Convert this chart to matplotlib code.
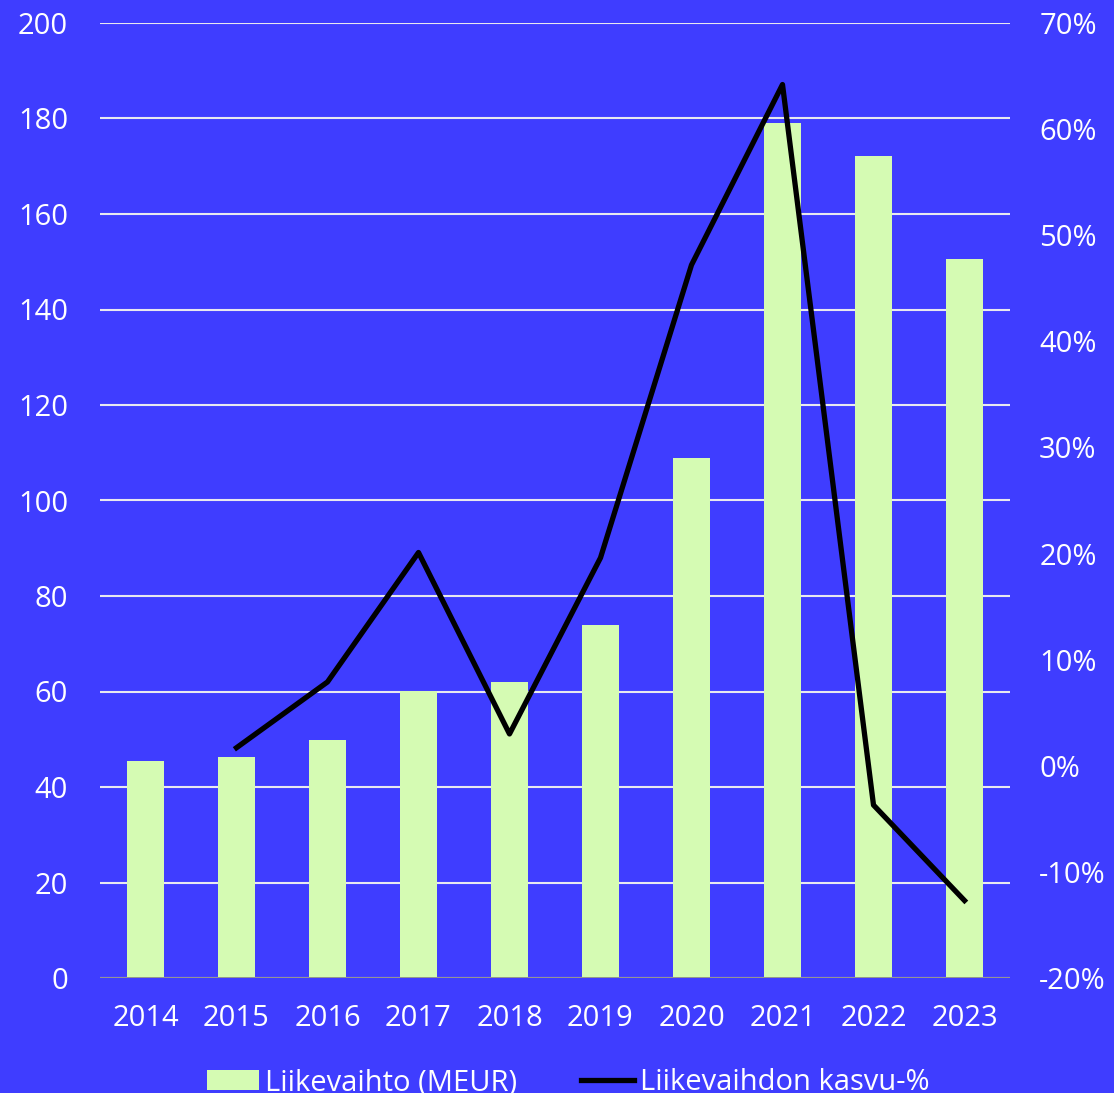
import numpy as np
import matplotlib.pyplot as plt

plt.rcParams['font.family'] = ['Open Sans', 'DejaVu Sans']

vuodet = ["2014", "2015", "2016", "2017", "2018", "2019", "2020", "2021", "2022", "2023"]
liikevaihto = [45.5, 46.3, 49.9, 60.1, 61.9, 74.0, 109.0, 179.1, 172.2, 150.5]
kasvu = [np.nan, 1.7, 7.9, 20.1, 3.0, 19.6, 47.2, 64.2, -3.7, -12.7]

tausta = "#3f3dff"
vihrea = "#d5fbb3"

fig = plt.figure(figsize=(11.14, 10.93), dpi=100, facecolor=tausta)
ax = fig.add_axes([100 / 1114, 115 / 1093, 910 / 1114, 955 / 1093])
ax.set_facecolor(tausta)
x = np.arange(len(vuodet))

# Pylväät vasemmalle akselille
ax.bar(x, liikevaihto, width=0.4, color=vihrea, zorder=3, label="Liikevaihto (MEUR)")
ax.set_ylim(0, 200)
ax.set_xlim(-0.5, len(vuodet) - 0.5)
ax.set_yticks(range(0, 201, 20))
ax.grid(axis="y", color="#e8e8f0", linewidth=1.5, zorder=0)
ax.set_xticks(x)
ax.set_xticklabels(vuodet)
for s in ax.spines.values():
    s.set_visible(False)
ax.axhline(0, color="#8a8a8a", linewidth=2, zorder=4)
ax.tick_params(colors="white", labelsize=21, length=0)
ax.tick_params(axis="y", pad=23)
ax.tick_params(axis="x", pad=19)

# Kasvuprosentti oikealle akselille
ax2 = ax.twinx()
ax2.plot(x, kasvu, color="black", linewidth=3.8, zorder=5, label="Liikevaihdon kasvu-%")
ax2.set_ylim(-20, 70)
ax2.set_yticks(range(-20, 71, 10))
ax2.set_yticklabels([f"{v}%" for v in range(-20, 71, 10)])
for s in ax2.spines.values():
    s.set_visible(False)
ax2.tick_params(colors="white", labelsize=21, length=0, pad=21)

h1, l1 = ax.get_legend_handles_labels()
h2, l2 = ax2.get_legend_handles_labels()
fig.legend(h1 + h2, l1 + l2, loc="lower center", bbox_to_anchor=(0.51, -0.028), ncol=2,
           frameon=False, fontsize=21, labelcolor="white", handlelength=1.8,
           handletextpad=0.2, columnspacing=2.2)

fig.savefig("out.png", dpi=100, facecolor=tausta)
